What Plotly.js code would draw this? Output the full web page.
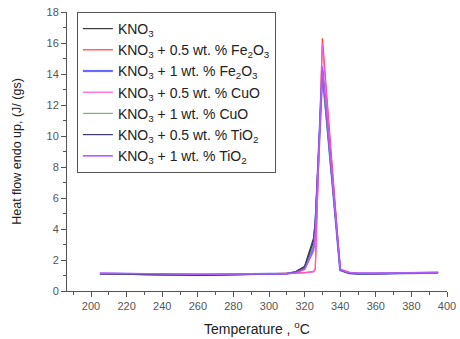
<!DOCTYPE html>
<html>
<head>
<meta charset="utf-8">
<script src="https://cdn.plot.ly/plotly-3.0.1.min.js"></script>
<style>html,body{margin:0;padding:0;background:#fff;}#chart{width:460px;height:339px;}</style>
</head>
<body>
<div id="chart"></div>
<script>
const temperature = [205,210,220,230,240,250,260,270,280,290,300,310,315,320,325,326,330,335,340,345,350,360,370,380,390,395];

const seriesNames = [
  "KNO<sub>3</sub>",
  "KNO<sub>3</sub> + 0.5 wt. % Fe<sub>2</sub>O<sub>3</sub>",
  "KNO<sub>3</sub> + 1 wt. % Fe<sub>2</sub>O<sub>3</sub>",
  "KNO<sub>3</sub> + 0.5 wt. % CuO",
  "KNO<sub>3</sub> + 1 wt. % CuO",
  "KNO<sub>3</sub> + 0.5 wt. % TiO<sub>2</sub>",
  "KNO<sub>3</sub> + 1 wt. % TiO<sub>2</sub>"
];

const kno3        = [1.12,1.10,1.08,1.06,1.04,1.03,1.03,1.04,1.05,1.06,1.08,1.12,1.25,1.60,3.40,4.60,14.0,7.60,1.35,1.15,1.12,1.12,1.13,1.15,1.17,1.18];
const fe2o3_05    = [1.12,1.12,1.10,1.08,1.07,1.06,1.06,1.06,1.07,1.08,1.10,1.12,1.14,1.18,1.25,1.40,16.3,8.70,1.40,1.20,1.15,1.14,1.15,1.16,1.18,1.18];
const fe2o3_1     = [1.13,1.12,1.10,1.08,1.06,1.05,1.05,1.06,1.07,1.08,1.10,1.13,1.20,1.45,2.80,4.00,14.2,7.70,1.35,1.15,1.12,1.12,1.13,1.15,1.17,1.18];
const cuo_05      = [1.14,1.13,1.11,1.09,1.08,1.07,1.07,1.07,1.08,1.09,1.10,1.12,1.14,1.17,1.25,1.45,16.0,8.50,1.40,1.22,1.16,1.14,1.15,1.16,1.18,1.19];
const cuo_1       = [1.12,1.11,1.09,1.07,1.05,1.04,1.04,1.05,1.06,1.07,1.09,1.12,1.20,1.50,3.00,4.20,14.0,7.60,1.35,1.15,1.12,1.12,1.13,1.15,1.17,1.18];
const tio2_05     = [1.10,1.09,1.07,1.05,1.02,1.01,1.01,1.03,1.05,1.06,1.08,1.12,1.22,1.55,3.20,4.40,14.3,7.80,1.35,1.14,1.11,1.11,1.12,1.14,1.17,1.18];
const tio2_1      = [1.15,1.14,1.12,1.10,1.09,1.08,1.08,1.08,1.08,1.09,1.10,1.12,1.18,1.40,2.60,3.80,14.5,7.90,1.38,1.18,1.15,1.14,1.15,1.16,1.18,1.19];

const seriesValues = [kno3, fe2o3_05, fe2o3_1, cuo_05, cuo_1, tio2_05, tio2_1];
const seriesColors = ["#3a3a3a","#ff3b3b","#6a6aff","#ff55dd","#77b077","#3a3a70","#b05cff"];
const seriesWidths = [1.2,1.2,2.2,1.2,1.2,1.2,1.6];

const traces = seriesValues.map((v,i)=>({
  x: temperature, y: v, type: "scatter", mode: "lines",
  name: seriesNames[i],
  line: {color: seriesColors[i], width: seriesWidths[i]}
}));

const fam = "Liberation Sans, Arial, sans-serif";
const axisFont = {family: fam, size: 11, color: "#555"};

const layout = {
  width: 460, height: 339,
  margin: {l: 67, r: 13, t: 12, b: 48},
  paper_bgcolor: "#fff", plot_bgcolor: "#fff",
  font: {family: fam, color: "#222"},
  showlegend: true,
  legend: {
    x: 0.026, y: 1, xanchor: "left", yanchor: "top",
    bgcolor: "#fff", bordercolor: "#555", borderwidth: 1,
    font: {family: fam, size: 14, color: "#222"},
    tracegroupgap: 0
  },
  xaxis: {
    range: [186.5, 400], tick0: 200, dtick: 20,
    showgrid: false, zeroline: false,
    showline: true, linecolor: "#555", linewidth: 1,
    ticks: "outside", ticklen: 5, tickcolor: "#555",
    minor: {dtick: 10, ticks: "outside", ticklen: 3, tickcolor: "#555"},
    tickfont: axisFont,
    title: {text: "Temperature , <sup>o</sup>C", font: {family: fam, size: 14, color: "#222"}, standoff: 12}
  },
  yaxis: {
    range: [0, 18], dtick: 2,
    showgrid: false, zeroline: false,
    showline: true, linecolor: "#555", linewidth: 1,
    ticks: "outside", ticklen: 5, tickcolor: "#555",
    minor: {dtick: 1, ticks: "outside", ticklen: 3, tickcolor: "#555"},
    tickfont: axisFont,
    title: {text: "Heat flow endo up, (J/ (gs)", font: {family: fam, size: 12.5, color: "#222"}, standoff: 22}
  }
};

Plotly.newPlot("chart", traces, layout, {displayModeBar: false, staticPlot: true});
</script>
</body>
</html>
